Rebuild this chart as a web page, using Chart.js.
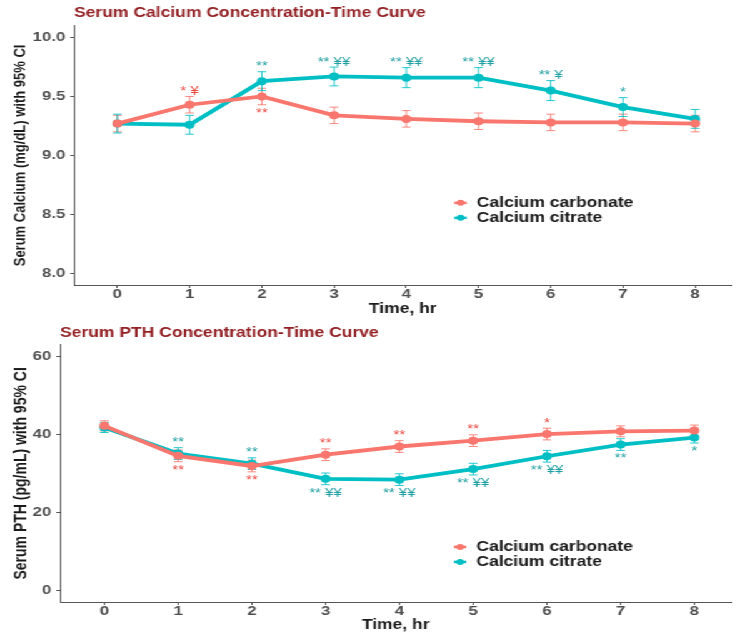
<!DOCTYPE html>
<html>
<head>
<meta charset="utf-8">
<script src="https://cdn.jsdelivr.net/npm/chart.js@4.4.1/dist/chart.umd.min.js"></script>
<style>
    html, body { margin: 0; padding: 0; background: #fff; overflow: hidden; }
    /* the reference figure is stretched sideways, so draw narrow and widen */
    #stage { width: 589px; transform: scaleX(1.25); transform-origin: 0 0; }
    canvas { display: block; }
</style>
</head>
<body>
<div id="stage">
    <canvas id="calciumChart" width="589" height="318"></canvas>
    <canvas id="pthChart" width="589" height="316"></canvas>
</div>
<script>
// Sampling times, hr
const hours = [0, 1, 2, 3, 4, 5, 6, 7, 8];
const seriesNames = ["Calcium carbonate", "Calcium citrate"];

// Serum calcium (mg/dL): means and 95% CI half-widths
const calciumCarbonate = [9.27, 9.43, 9.50, 9.34, 9.31, 9.29, 9.28, 9.28, 9.27];
const calciumCarbonateCI = [0.07, 0.07, 0.07, 0.07, 0.07, 0.07, 0.07, 0.07, 0.07];
const calciumCitrate = [9.27, 9.26, 9.63, 9.67, 9.66, 9.66, 9.55, 9.41, 9.31];
const calciumCitrateCI = [0.08, 0.08, 0.08, 0.08, 0.085, 0.085, 0.085, 0.08, 0.08];
const calciumTicks = [8.0, 8.5, 9.0, 9.5, 10.0];

// Significance marks for the calcium panel
const calciumCarbonateAbove = ["", "* \u00a5", "", "", "", "", "", "", ""];
const calciumCarbonateBelow = ["", "", "**", "", "", "", "", "", ""];
const calciumCitrateAbove = ["", "", "**", "** \u00a5\u00a5", "** \u00a5\u00a5", "** \u00a5\u00a5", "** \u00a5", "*", ""];
const calciumCitrateBelow = ["", "", "", "", "", "", "", "", ""];

// Serum PTH (pg/mL): means and 95% CI half-widths
const pthCarbonate = [42.2, 34.5, 31.9, 34.8, 36.9, 38.4, 40.1, 40.8, 41.0];
const pthCarbonateCI = [1.3, 1.5, 1.5, 1.5, 1.5, 1.5, 1.5, 1.4, 1.4];
const pthCitrate = [41.8, 35.1, 32.5, 28.6, 28.4, 31.1, 34.4, 37.4, 39.2];
const pthCitrateCI = [1.3, 1.5, 1.5, 1.5, 1.5, 1.5, 1.5, 1.5, 1.4];
const pthTicks = [0, 20, 40, 60];

// Significance marks for the PTH panel
const pthCarbonateAbove = ["", "", "", "**", "**", "**", "*", "", ""];
const pthCarbonateBelow = ["", "**", "**", "", "", "", "", "", ""];
const pthCitrateAbove = ["", "**", "**", "", "", "", "", "", ""];
const pthCitrateBelow = ["", "", "", "** \u00a5\u00a5", "** \u00a5\u00a5", "** \u00a5\u00a5", "** \u00a5\u00a5", "**", "*"];

const RED = "#F8766D";
const TEAL = "#00BFC4";
const RED_TEXT = "#EC4A43";
const TEAL_TEXT = "#1F9EA0";
const FONT = "'Liberation Sans', Arial, sans-serif";

// Error bars under the lines, significance marks on top
const errorBarPlugin = {
    id: "errorBars",
    beforeDatasetsDraw(chart) {
        const { ctx } = chart;
        const x = chart.scales.x;
        const y = chart.scales.y;
        chart.data.datasets.forEach((ds) => {
            ctx.save();
            ctx.strokeStyle = ds.borderColor;
            ctx.globalAlpha = 0.85;
            ctx.lineWidth = 1;
            ds.data.forEach((p, i) => {
                const px = x.getPixelForValue(p.x);
                const top = y.getPixelForValue(p.y + ds.ci[i]);
                const bot = y.getPixelForValue(p.y - ds.ci[i]);
                ctx.beginPath();
                ctx.moveTo(px, top);
                ctx.lineTo(px, bot);
                ctx.moveTo(px - 3.5, top);
                ctx.lineTo(px + 3.5, top);
                ctx.moveTo(px - 3.5, bot);
                ctx.lineTo(px + 3.5, bot);
                ctx.stroke();
            });
            ctx.restore();
        });
    },
    afterDatasetsDraw(chart) {
        const { ctx } = chart;
        const x = chart.scales.x;
        const y = chart.scales.y;
        ctx.save();
        ctx.font = `12px ${FONT}`;
        ctx.textAlign = "center";
        ctx.textBaseline = "alphabetic";
        chart.data.datasets.forEach((ds) => {
            ctx.fillStyle = ds.markColor;
            ds.data.forEach((p, i) => {
                const px = x.getPixelForValue(p.x);
                if (ds.above[i]) {
                    ctx.fillText(ds.above[i], px, y.getPixelForValue(p.y + ds.ci[i]) - 1.5);
                }
                if (ds.below[i]) {
                    ctx.fillText(ds.below[i], px, y.getPixelForValue(p.y - ds.ci[i]) + 12);
                }
            });
        });
        ctx.restore();
    },
};

// Legend drawn inside the panel, like ggplot's legend.position = c(x, y)
const insetLegendPlugin = {
    id: "insetLegend",
    afterDraw(chart, args, opts) {
        const { ctx, chartArea: a } = chart;
        const x0 = a.left + opts.fx * (a.right - a.left);
        const yc = a.top + opts.fy * (a.bottom - a.top);
        const rowH = 15;
        const n = chart.data.datasets.length;
        ctx.save();
        chart.data.datasets.forEach((ds, i) => {
            const yy = yc + (i - (n - 1) / 2) * rowH;
            ctx.strokeStyle = ds.borderColor;
            ctx.fillStyle = ds.borderColor;
            ctx.lineWidth = 2.5;
            ctx.beginPath();
            ctx.moveTo(x0 - 5, yy);
            ctx.lineTo(x0 + 5, yy);
            ctx.stroke();
            ctx.beginPath();
            ctx.arc(x0, yy, 3, 0, Math.PI * 2);
            ctx.fill();
            ctx.fillStyle = "#1A1A1A";
            ctx.font = `bold 14px ${FONT}`;
            ctx.textAlign = "left";
            ctx.textBaseline = "middle";
            ctx.fillText(ds.label, x0 + 13, yy + 0.5);
        });
        ctx.restore();
    },
};

function makeDataset(label, values, ci, color, markColor, above, below) {
    return {
        label,
        data: hours.map((h, i) => ({ x: h, y: values[i] })),
        ci,
        above,
        below,
        markColor,
        borderColor: color,
        backgroundColor: color,
        borderWidth: 3.8,
        pointRadius: 4,
        pointBorderWidth: 0,
        pointBackgroundColor: color,
        tension: 0,
    };
}

function makePanel(canvasId, p) {
    return new Chart(document.getElementById(canvasId), {
        type: "line",
        data: { datasets: p.datasets },
        plugins: [errorBarPlugin, insetLegendPlugin],
        options: {
            responsive: false,
            animation: false,
            layout: { padding: { left: 0, right: 2, top: 0, bottom: 0 } },
            plugins: {
                legend: { display: false },
                tooltip: { enabled: false },
                title: {
                    display: true,
                    text: p.title,
                    align: "start",
                    fullSize: false,
                    color: "#922024",
                    font: { family: FONT, size: 14, weight: "bold" },
                    padding: p.titlePadding,
                },
                insetLegend: p.legendAt,
            },
            scales: {
                x: {
                    type: "linear",
                    min: -0.6,
                    max: 8.5,
                    afterBuildTicks: (s) => { s.ticks = hours.map((v) => ({ value: v })); },
                    afterFit: (s) => { s.height = p.xHeight; },
                    grid: { drawOnChartArea: false, tickLength: 3, color: "#555" },
                    border: { color: "#555", width: 1 },
                    ticks: {
                        padding: 0,
                        color: "#4D4D4D",
                        font: { family: FONT, size: 13.5, weight: "bold", lineHeight: 1 },
                    },
                    title: {
                        display: true,
                        text: "Time, hr",
                        color: "#1A1A1A",
                        padding: { top: 0, bottom: 0 },
                        font: { family: FONT, size: 14, weight: "bold" },
                    },
                },
                y: {
                    min: p.yMin,
                    max: p.yMax,
                    afterBuildTicks: (s) => { s.ticks = p.yTicks.map((v) => ({ value: v })); },
                    afterFit: (s) => { s.width = p.yWidth; },
                    grid: { drawOnChartArea: false, tickLength: 3, color: "#555" },
                    border: { color: "#555", width: 1 },
                    ticks: {
                        padding: 4,
                        color: "#4D4D4D",
                        font: { family: FONT, size: 13.5, weight: "bold" },
                        callback: p.tickFormat,
                    },
                    title: {
                        display: true,
                        text: p.yTitle,
                        color: "#1A1A1A",
                        padding: { top: p.yTitlePad, bottom: 0 },
                        font: { family: FONT, size: p.yTitleSize, weight: "bold" },
                    },
                },
            },
        },
    });
}

makePanel("calciumChart", {
    title: "Serum Calcium Concentration-Time Curve",
    titlePadding: { top: 5, bottom: 4 },
    yTitle: "Serum Calcium (mg/dL) with 95% CI",
    yTitleSize: 13,
    yTitlePad: 9,
    yMin: 7.9,
    yMax: 10.1,
    yTicks: calciumTicks,
    tickFormat: (v) => Number(v).toFixed(1),
    yWidth: 59.2,
    xHeight: 33,
    legendAt: { fx: 0.588, fy: 0.712 },
    datasets: [
        makeDataset(seriesNames[0], calciumCarbonate, calciumCarbonateCI, RED, RED_TEXT,
            calciumCarbonateAbove, calciumCarbonateBelow),
        makeDataset(seriesNames[1], calciumCitrate, calciumCitrateCI, TEAL, TEAL_TEXT,
            calciumCitrateAbove, calciumCitrateBelow),
    ],
});

makePanel("pthChart", {
    title: "Serum PTH Concentration-Time Curve",
    titlePadding: { top: 7, bottom: 3 },
    yTitle: "Serum PTH (pg/mL) with 95% CI",
    yTitleSize: 14,
    yTitlePad: 9,
    yMin: -3,
    yMax: 63,
    yTicks: pthTicks,
    tickFormat: (v) => String(v),
    yWidth: 48,
    xHeight: 32,
    legendAt: { fx: 0.596, fy: 0.815 },
    datasets: [
        makeDataset(seriesNames[0], pthCarbonate, pthCarbonateCI, RED, RED_TEXT,
            pthCarbonateAbove, pthCarbonateBelow),
        makeDataset(seriesNames[1], pthCitrate, pthCitrateCI, TEAL, TEAL_TEXT,
            pthCitrateAbove, pthCitrateBelow),
    ],
});
</script>
</body>
</html>
